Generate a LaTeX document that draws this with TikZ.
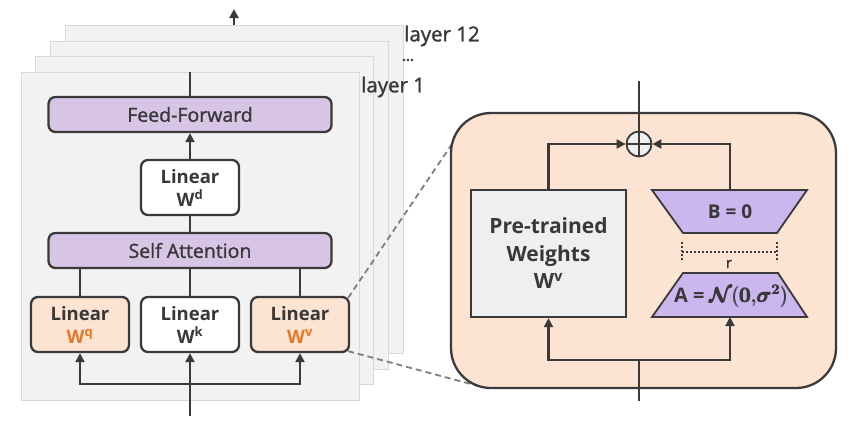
\documentclass[tikz,border=0pt]{standalone}
\usepackage{amsmath}
\usepackage{fontspec}
\usepackage{bm}
\setmainfont{Open Sans}
\newfontfamily\medfont{Open Sans}[FakeBold=1.3]
\usetikzlibrary{arrows.meta}
\definecolor{lc}{HTML}{3A3A3A}
\definecolor{tc}{HTML}{383838}
\definecolor{planefill}{HTML}{F2F2F2}
\definecolor{planeedge}{HTML}{D8D8D8}
\definecolor{purplebox}{HTML}{D8C5E6}
\definecolor{trapfill}{HTML}{CBB6EE}
\definecolor{peach}{HTML}{FDE4D2}
\definecolor{orangetxt}{HTML}{E6782A}
\definecolor{ptfill}{HTML}{EFEFEF}
\definecolor{dashc}{HTML}{7F7F7F}
\begin{document}
\begin{tikzpicture}[x=1pt,y=-1pt,
  ln/.style={line width=2.2pt, draw=lc},
  arr/.style={ln, -{Triangle[length=9pt,width=9pt]}},
  box/.style={draw=lc, line width=2.3pt, rounded corners=7pt, inner sep=0pt, align=center, text=tc},
  plane/.style={draw=planeedge, fill=planefill, line width=1pt, minimum width=338pt, minimum height=328pt, inner sep=0pt},
  wide/.style={box, fill=purplebox, minimum width=283pt, minimum height=35pt, font=\medfont\fontsize{19.5}{22}\selectfont},
  lin/.style={box, minimum width=98pt, minimum height=55pt, font=\fontsize{18.5}{23}\selectfont\bfseries},
  lbl/.style={text=tc, inner sep=0pt, font=\medfont\fontsize{20.5}{22}\selectfont}
]
\useasboundingbox (0,0) rectangle (860,424);
\fill[white] (0,0) rectangle (860,424);

% stacked layers
\node[plane] (p4) at (234,189.5) {};
\node[plane] (p3) at (219.3,205) {};
\node[plane] (p2) at (204.7,220.5) {};
\node[plane] (p1) at (190,236) {};
\coordinate (outl) at (234,9);
\draw[arr] (p4.north) -- (outl);

\node[lbl, anchor=west] (l12) at (404,36) {layer 12};
\node[lbl, anchor=west, font=\bfseries\fontsize{14}{16}\selectfont] (ldots) at (402,61) {...};
\node[lbl, anchor=west] (l1) at (361,87) {layer 1};

% left block
\node[wide] (ff) at (190,114.5) {Feed-Forward};
\node[lin, fill=white] (wd) at (190,187.5) {Linear\\W\textsuperscript{d}};
\node[wide] (sa) at (190,250.5) {Self Attention};
\node[lin, fill=peach] (wq) at (80,324.5) {Linear\\\textcolor{orangetxt}{W\textsuperscript{q}}};
\node[lin, fill=white] (wk) at (190,324.5) {Linear\\W\textsuperscript{k}};
\node[lin, fill=peach] (wv) at (300,324.5) {Linear\\\textcolor{orangetxt}{W\textsuperscript{v}}};

\draw[ln] (ff.north) -- (p1.north);
\draw[arr] (wd.north) -- (ff.south);
\draw[ln] (sa.north) -- (wd.south);
\draw[ln] (wq.north) -- (wq.north |- sa.south);
\draw[ln] (wk.north) -- (sa.south);
\draw[ln] (wv.north) -- (wv.north |- sa.south);
\coordinate (lin0) at (190,416);
\coordinate (lsplit) at (190,384);
\draw[arr] (lin0) -- (wk.south);
\draw[arr] (lsplit) -| (wq.south);
\draw[arr] (lsplit) -| (wv.south);

% zoom dashed lines
\coordinate (d1) at (452,144);
\coordinate (d2) at (482,387);
\draw[dashc, line width=1.8pt, dash pattern=on 6pt off 4pt] (wv.north east) ++(-2,2) -- (d1);
\draw[dashc, line width=1.8pt, dash pattern=on 6pt off 4pt] (wv.south east) ++(-2,-2) -- (d2);

% right panel
\node[draw=lc, line width=2.3pt, fill=peach, rounded corners=40pt, minimum width=385pt, minimum height=275pt, inner sep=0pt] (panel) at (643.5,250.5) {};

\node[draw=lc, line width=2.3pt, fill=ptfill, minimum width=155pt, minimum height=127pt, inner sep=0pt, align=center, text=tc, font=\fontsize{21}{27.5}\selectfont\bfseries] (pt) at (548.5,253.5) {Pre-trained\\Weights\\W\textsuperscript{v}};

\draw[lc, line width=1.8pt, fill=trapfill] (652,190) -- (807,190) -- (777,233) -- (683,233) -- cycle;
\draw[lc, line width=1.8pt, fill=trapfill] (683,273) -- (778,273) -- (807,317) -- (652,317) -- cycle;
\node[text=tc, inner sep=0pt, font=\fontsize{19}{20}\selectfont\bfseries] (bnode) at (730,212) {B = 0};
\node[text=tc, inner sep=0pt, font=\fontsize{20}{22}\selectfont\bfseries] (anode) at (731,296) {A = $\pmb{\bm{\mathcal{N}}}\pmb{(\bm{0}{,}\bm{\sigma}^{\bm{2}})}$};
\coordinate (btop) at (730,190);
\coordinate (abot) at (730,317);

\draw[lc, line width=2pt, dash pattern=on 2pt off 2pt] (682,242) -- (682,262) (777,242) -- (777,262) (682,252) -- (777,252);
\node[text=tc, inner sep=0pt, font=\medfont\fontsize{15}{16}\selectfont] (rlbl) at (729,264) {r};

\node[circle, draw=lc, line width=1.8pt, fill=ptfill, minimum size=25pt, inner sep=0pt] (plus) at (639,144) {};
\draw[lc, line width=1.8pt] (plus.north) -- (plus.south) (plus.west) -- (plus.east);

\coordinate (rout) at (639,81);
\draw[ln] (plus.north) -- (rout);
\draw[arr] (pt.north) |- (plus.west);
\draw[arr] (btop) |- (plus.east);

\coordinate (rin) at (639,401);
\coordinate (rsplit) at (639,360);
\draw[ln] (rin) -- (rsplit);
\draw[arr] (rsplit) -| (pt.south);
\draw[arr] (rsplit) -| (abot);
\end{tikzpicture}
\end{document}
